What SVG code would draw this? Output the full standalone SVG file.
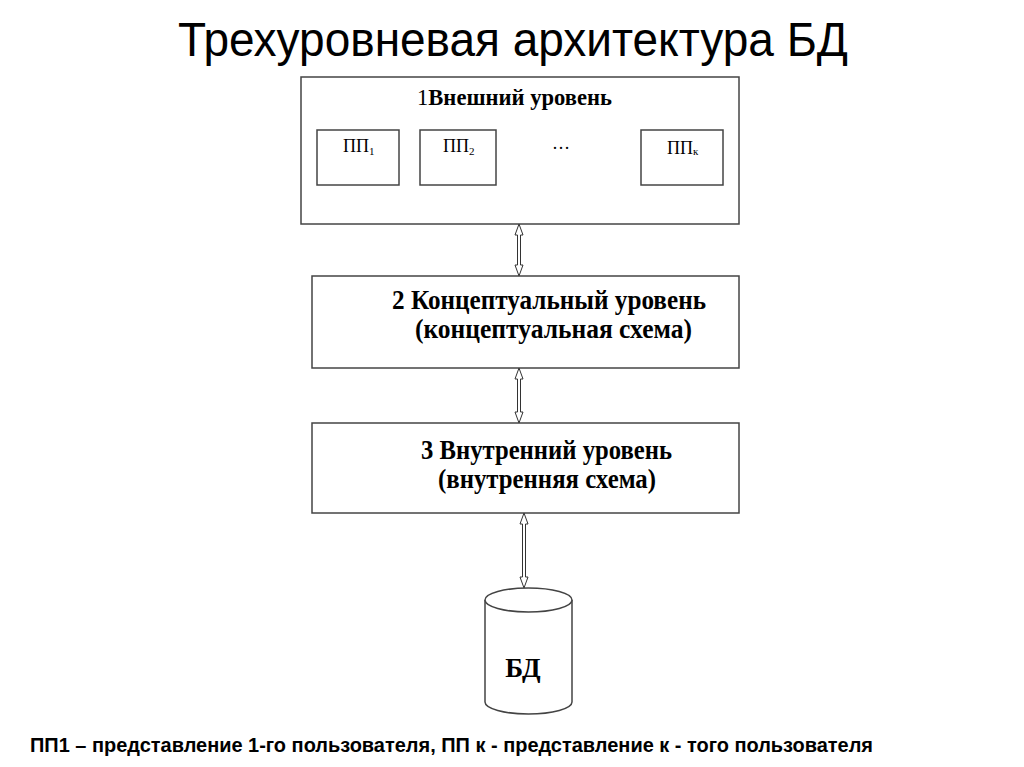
<svg xmlns="http://www.w3.org/2000/svg" width="1024" height="767" viewBox="0 0 1024 767">
<style>
.box{fill:#fff;stroke:#444;stroke-width:1.5}
.tb{font-family:"Liberation Serif",serif;font-weight:bold;font-size:27px;fill:#000}
.tr{font-family:"Liberation Serif",serif;font-size:18px;fill:#000}
.arr{fill:#fff;stroke:#333;stroke-width:1}
</style>
<rect width="1024" height="767" fill="#fff"/>
<text x="178" y="56" font-family="Liberation Sans, sans-serif" font-size="48" textLength="670" lengthAdjust="spacingAndGlyphs" fill="#000">Трехуровневая архитектура БД</text>
<g id="external">
<rect class="box" x="301" y="77" width="438" height="147"/>
<text x="417" y="105" font-family="Liberation Serif, serif" font-size="23" textLength="195" lengthAdjust="spacingAndGlyphs"><tspan>1</tspan><tspan font-weight="bold">Внешний уровень</tspan></text>
</g>
<g id="pp1"><rect class="box" x="317" y="130" width="82" height="55"/><text class="tr" x="343" y="152">ПП<tspan font-size="11" dy="3">1</tspan></text></g>
<g id="pp2"><rect class="box" x="420" y="130" width="76" height="55"/><text class="tr" x="443" y="152">ПП<tspan font-size="11" dy="3">2</tspan></text></g>
<g id="dots"><text class="tr" x="552" y="149" font-size="14">…</text></g>
<g id="ppk"><rect class="box" x="641" y="130" width="82" height="55"/><text class="tr" x="667" y="154">ПП<tspan font-size="11" dy="1">к</tspan></text></g>
<g id="conceptual">
<rect class="box" x="312" y="276" width="427" height="92"/>
<text class="tb" x="392" y="309" textLength="314" lengthAdjust="spacingAndGlyphs">2 Концептуальный уровень</text>
<text class="tb" x="415" y="338" textLength="277" lengthAdjust="spacingAndGlyphs">(концептуальная схема)</text>
</g>
<g id="internal">
<rect class="box" x="312" y="423" width="427" height="90"/>
<text class="tb" x="421" y="459" textLength="251" lengthAdjust="spacingAndGlyphs">3 Внутренний уровень</text>
<text class="tb" x="438" y="488" textLength="218" lengthAdjust="spacingAndGlyphs">(внутренняя схема)</text>
</g>
<g id="db">
<path class="box" d="M485,600 L485,702 A43.5,12 0 0 0 572,702 L572,600"/>
<ellipse class="box" cx="528.5" cy="600" rx="43.5" ry="12"/>
<text class="tb" x="523" y="677" text-anchor="middle" font-size="27">БД</text>
</g>
<g id="connectors">
<path class="arr" d="M519,224 L523,235 L520.5,235 L520.5,265 L523,265 L519,276 L515,265 L517.5,265 L517.5,235 L515,235 Z"/>
<path class="arr" d="M519,368 L523,379 L520.5,379 L520.5,412 L523,412 L519,423 L515,412 L517.5,412 L517.5,379 L515,379 Z"/>
<path class="arr" d="M524,513 L528,524 L525.5,524 L525.5,577 L528,577 L524,588 L520,577 L522.5,577 L522.5,524 L520,524 Z"/>
</g>
<text x="30" y="752" font-family="Liberation Sans, sans-serif" font-weight="bold" font-size="21" textLength="843" lengthAdjust="spacingAndGlyphs" fill="#000">ПП1 – представление 1-го пользователя, ПП к - представление к - того пользователя</text>
</svg>
